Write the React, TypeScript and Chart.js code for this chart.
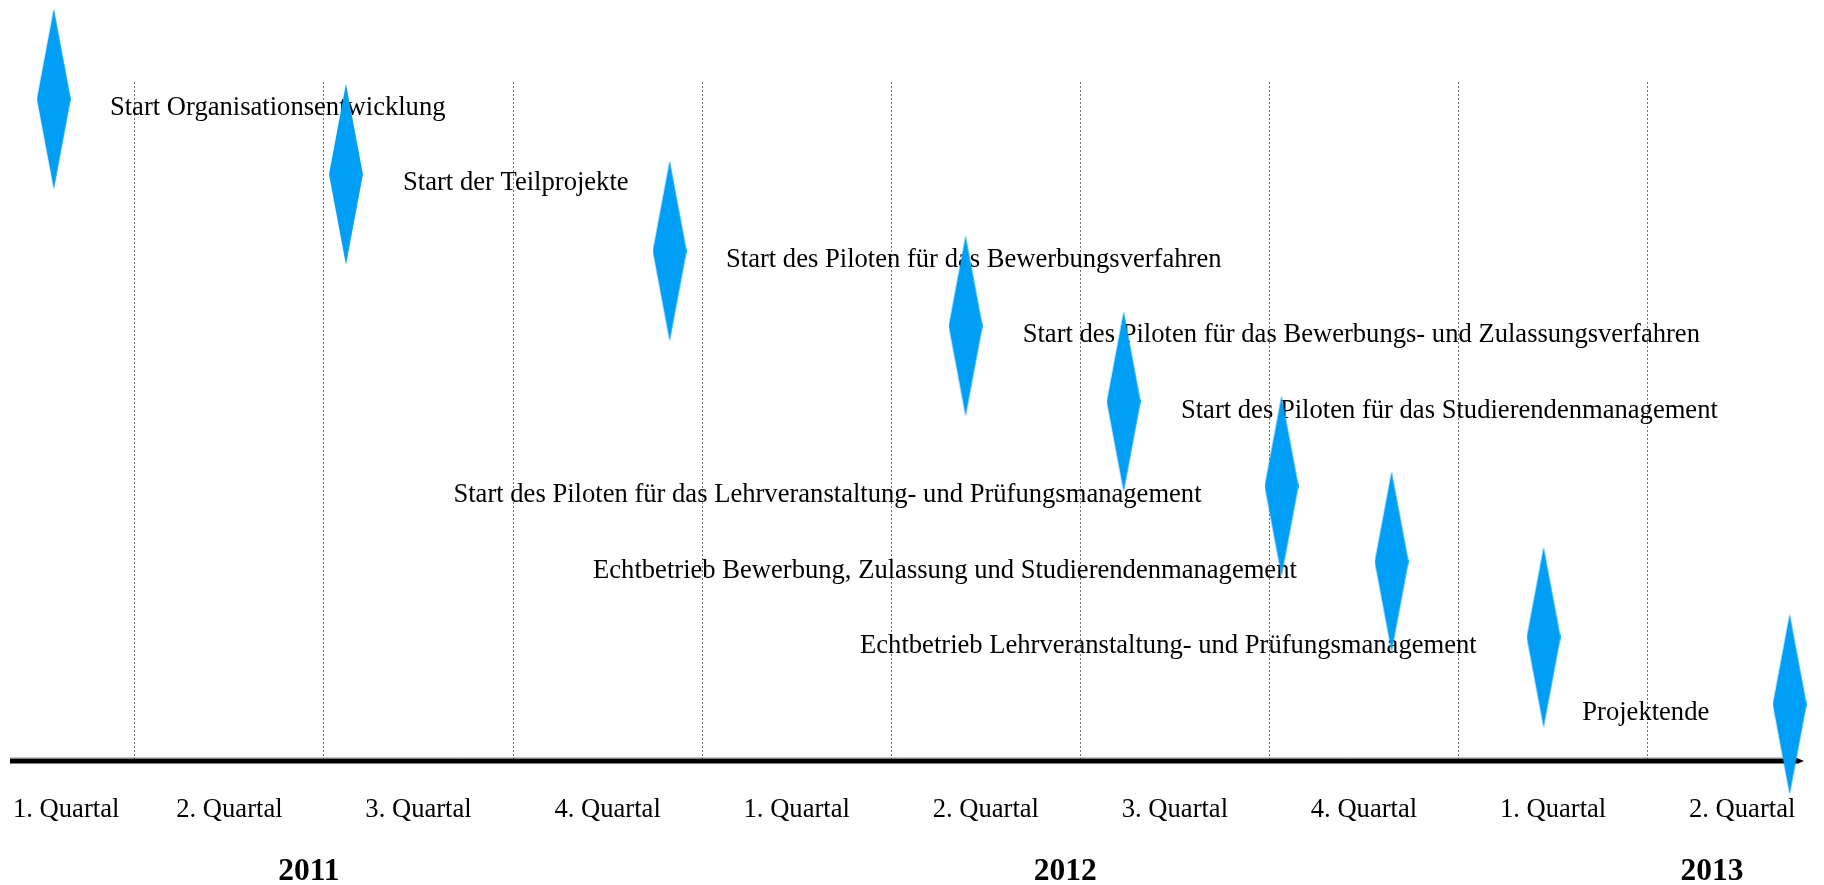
import React, { useEffect, useRef } from 'react';
import { Chart, registerables } from 'chart.js';

Chart.register(...registerables);

// Milestones (x in quarters since start of 2011, y = row height above the time axis)
const milestoneLabels = [
  'Start Organisationsentwicklung',
  'Start der Teilprojekte',
  'Start des Piloten für das Bewerbungsverfahren',
  'Start des Piloten für das Bewerbungs- und Zulassungsverfahren',
  'Start des Piloten für das Studierendenmanagement',
  'Start des Piloten für das Lehrveranstaltung- und Prüfungsmanagement',
  'Echtbetrieb Bewerbung, Zulassung und Studierendenmanagement',
  'Echtbetrieb Lehrveranstaltung- und Prüfungsmanagement',
  'Projektende',
];
const milestoneX = [0.571, 2.116, 3.828, 5.393, 6.229, 7.064, 7.646, 8.45, 9.751];
const milestoneY = [8.775, 7.777, 6.76, 5.766, 4.763, 3.645, 2.642, 1.64, 0.752];
const labelX = [0.868, 2.418, 4.126, 5.695, 6.532, 6.641, 7.145, 8.096, 9.326];
const labelAlign = ['left', 'left', 'left', 'left', 'left', 'right', 'right', 'right', 'right'];

const quarterLabels = [
  '1. Quartal', '2. Quartal', '3. Quartal', '4. Quartal',
  '1. Quartal', '2. Quartal', '3. Quartal', '4. Quartal',
  '1. Quartal', '2. Quartal',
];
const quarterBoundaries = [1, 2, 3, 4, 5, 6, 7, 8, 9];
const yearLabels = ['2011', '2012', '2013'];
const yearPositions = [1.92, 5.92, 9.34];

const DIAMOND_COLOR = '#009EF5';
const SERIF = '"Liberation Serif", "Times New Roman", serif';

function makeDiamond(): HTMLCanvasElement {
  const c = document.createElement('canvas');
  const w = 34;
  const h = 181;
  c.width = w;
  c.height = h;
  const ctx = c.getContext('2d')!;
  ctx.fillStyle = DIAMOND_COLOR;
  ctx.beginPath();
  ctx.moveTo(w / 2, 0);
  ctx.lineTo(w, h / 2);
  ctx.lineTo(w / 2, h);
  ctx.lineTo(0, h / 2);
  ctx.closePath();
  ctx.fill();
  return c;
}

const timelinePlugin = {
  id: 'timelineDecor',
  beforeDatasetsDraw(chart: any) {
    const { ctx, chartArea } = chart;
    const xs = chart.scales.x;
    const ys = chart.scales.y;
    const axisY = chartArea.bottom;
    ctx.save();

    // thin grey line above axis
    ctx.strokeStyle = '#c8c8c8';
    ctx.lineWidth = 1;
    ctx.beginPath();
    ctx.moveTo(chartArea.left, axisY - 3.5);
    ctx.lineTo(chartArea.right - 7, axisY - 3.5);
    ctx.stroke();

    // thick black time axis
    ctx.strokeStyle = '#000';
    ctx.lineWidth = 5;
    ctx.beginPath();
    ctx.moveTo(chartArea.left, axisY);
    ctx.lineTo(chartArea.right - 7, axisY);
    ctx.stroke();
    // arrow head
    ctx.fillStyle = '#000';
    ctx.beginPath();
    ctx.moveTo(chartArea.right - 7, axisY - 3);
    ctx.lineTo(chartArea.right, axisY);
    ctx.lineTo(chartArea.right - 7, axisY + 3);
    ctx.closePath();
    ctx.fill();

    // milestone labels
    ctx.fillStyle = '#000';
    ctx.font = `26.6px ${SERIF}`;
    ctx.textBaseline = 'alphabetic';
    milestoneLabels.forEach((t, i) => {
      ctx.textAlign = labelAlign[i];
      const px = xs.getPixelForValue(labelX[i]);
      const py = ys.getPixelForValue(milestoneY[i]) + 16;
      ctx.fillText(t, px, py);
    });

    // quarter labels
    ctx.textAlign = 'left';
    quarterLabels.forEach((t, i) => {
      const cx = xs.getPixelForValue(i + 0.5);
      const w = ctx.measureText(t).width;
      const left = Math.max(cx - w / 2, chartArea.left + 3);
      ctx.fillText(t, left, axisY + 56);
    });

    // year labels
    ctx.font = `bold 31.5px ${SERIF}`;
    ctx.textAlign = 'center';
    yearLabels.forEach((t, i) => {
      ctx.fillText(t, xs.getPixelForValue(yearPositions[i]), axisY + 119);
    });

    ctx.restore();
  },
};

export default function App() {
  const ref = useRef<HTMLCanvasElement | null>(null);

  useEffect(() => {
    if (!ref.current) return;
    const diamond = makeDiamond();
    const chart = new Chart(ref.current, {
      type: 'scatter',
      data: {
        datasets: [
          {
            data: milestoneX.map((x, i) => ({ x, y: milestoneY[i] })),
            pointStyle: diamond as any,
            pointRadius: 17,
            clip: false as any,
          },
        ],
      },
      options: {
        animation: false,
        responsive: false,
        events: [],
        layout: { autoPadding: false, padding: { left: 10, right: 20, top: 82, bottom: 124 } },
        plugins: { legend: { display: false }, tooltip: { enabled: false } },
        scales: {
          x: {
            type: 'linear',
            min: 0.3395,
            max: 9.827,
            afterBuildTicks: (scale: any) => {
              scale.ticks = quarterBoundaries.map((v) => ({ value: v }));
            },
            ticks: { display: false },
            grid: { display: true, color: '#707070', lineWidth: 1, drawTicks: false },
            border: { display: false, dash: [2, 2] },
          },
          y: {
            type: 'linear',
            min: 0,
            max: 9,
            display: false,
          },
        },
      },
      plugins: [timelinePlugin],
    });
    return () => chart.destroy();
  }, []);

  return (
    <div style={{ position: 'fixed', left: 0, top: 0, width: 1824, height: 885, background: '#fff' }}>
      <canvas ref={ref} width={1824} height={885} style={{ display: 'block' }} />
    </div>
  );
}
